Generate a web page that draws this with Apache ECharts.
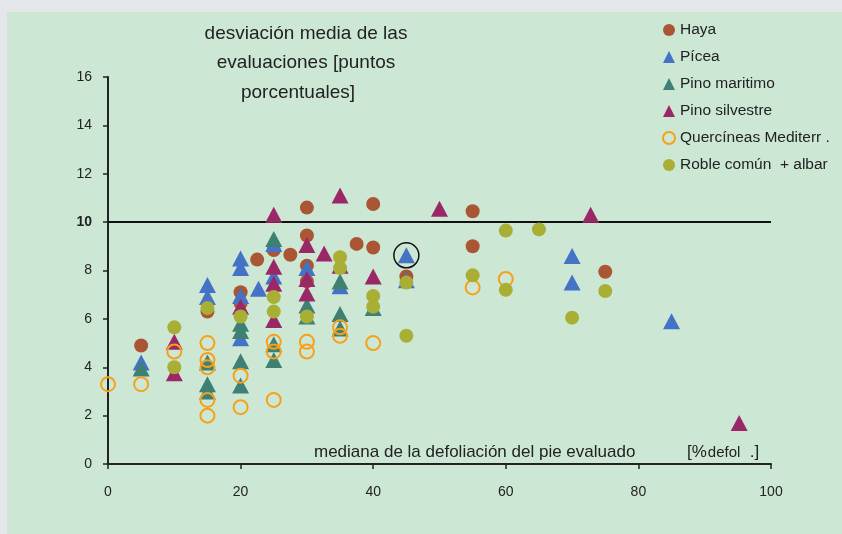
<!DOCTYPE html>
<html>
<head>
<meta charset="utf-8">
<script src="https://cdn.jsdelivr.net/npm/echarts@6/dist/echarts.min.js"></script>
<style>html,body{margin:0;padding:0;background:#E4E6E9;}#c{width:842px;height:534px;}</style>
</head>
<body>
<div id="c"></div>
<script>
// ---- data ----
const seriesNames = ['Haya', 'Pícea', 'Pino maritimo', 'Pino silvestre', 'Quercíneas Mediterr .', 'Roble común  + albar'];
const haya = [[5,4.9],[15,6.3],[20,7.1],[20,6.65],[22.5,8.45],[25,8.85],[27.5,8.65],[30,10.6],[30,9.45],[30,8.2],[30,7.55],[37.5,9.1],[40,10.75],[40,8.95],[45,7.75],[55,10.45],[55,9.0],[75,7.95]];
const picea = [[5,4.2],[15,7.4],[15,6.9],[20,8.5],[20,8.1],[20,6.95],[20,5.2],[22.7,7.25],[25,9.1],[25,7.75],[30,8.1],[35,7.35],[45,8.63],[45,7.6],[70,8.6],[70,7.5],[85,5.9]];
const pinoMaritimo = [[5,3.95],[15,4.2],[15,3.3],[15,3.0],[20,5.8],[20,5.5],[20,4.25],[20,3.25],[25,9.3],[25,4.95],[25,4.3],[30,6.55],[30,6.1],[35,7.55],[35,6.2],[35,5.6],[40,6.45]];
const pinoSilvestre = [[10,5.05],[10,3.75],[20,6.5],[25,10.3],[25,8.15],[25,7.45],[25,5.95],[30,9.05],[30,7.65],[30,7.05],[32.6,8.7],[35,11.1],[35,8.2],[40,7.75],[50,10.55],[72.8,10.3],[95.2,1.7]];
const quercineas = [[0,3.3],[5,3.3],[10,4.65],[15,5.0],[15,4.3],[15,4.0],[15,2.65],[15,2.0],[20,3.65],[20,2.35],[25,5.05],[25,4.65],[25,2.65],[30,5.05],[30,4.65],[35,5.65],[35,5.3],[40,5.0],[55,7.3],[60,7.65]];
const roble = [[10,5.65],[10,4.0],[15,6.45],[20,6.1],[25,6.9],[25,6.3],[30,6.1],[35,8.55],[35,8.1],[40,6.95],[40,6.5],[45,7.5],[45,5.3],[55,7.8],[60,9.65],[60,7.2],[65,9.7],[70,6.05],[75,7.15]];
const circledPoint = [45, 8.63];
const referenceLevel = 10;
const xTicks = [0, 20, 40, 60, 80, 100];
const yTicks = [0, 2, 4, 6, 8, 10, 12, 14, 16];
const titleLines = ['desviación media de las', 'evaluaciones [puntos', 'porcentuales]'];
const xName = 'mediana de la defoliación del pie evaluado';

// ---- chart ----
const FONT = '"Liberation Sans", Arial, sans-serif';
const TXT = '#222';
const chart = echarts.init(document.getElementById('c'), null, {renderer: 'canvas'});

const colors = ['#AA5533', '#4472C4', '#3E8073', '#9A2867', '#F6A11A', '#A9AE34'];
const datas = [haya, picea, pinoMaritimo, pinoSilvestre, quercineas, roble];
const symbols = ['circle', 'triangle', 'triangle', 'triangle', 'ring', 'circle'];
const sizes = [14, [17, 16], [17, 16], [17, 16], 14, 14];

const series = datas.map((d, i) => {
  const ring = symbols[i] === 'ring';
  return {
    name: seriesNames[i],
    type: 'scatter',
    data: d,
    symbol: 'circle'.replace('circle', ring ? 'circle' : symbols[i]),
    symbolSize: sizes[i],
    itemStyle: ring
      ? {color: 'rgba(0,0,0,0)', borderColor: colors[i], borderWidth: 2, opacity: 1}
      : {color: colors[i], opacity: 1},
    emphasis: {disabled: true},
    z: 2 + i
  };
});

series[0].markLine = {
  silent: true,
  symbol: ['none', 'none'],
  label: {show: false},
  lineStyle: {color: '#111', width: 2, type: 'solid'},
  data: [[{coord: [xTicks[0], referenceLevel]}, {coord: [xTicks[xTicks.length - 1], referenceLevel]}]],
  z: 1
};
series[1].markPoint = {
  silent: true,
  symbol: 'circle',
  symbolSize: 25,
  label: {show: false},
  itemStyle: {color: 'rgba(0,0,0,0)', borderColor: '#111', borderWidth: 1.5},
  data: [{coord: circledPoint}]
};

const option = {
  animation: false,
  backgroundColor: '#E4E6E9',
  textStyle: {fontFamily: FONT},
  graphic: [
    {type: 'rect', z: -10, silent: true, shape: {x: 7, y: 12, width: 835, height: 522}, style: {fill: '#CDE7D5'}},
    {type: 'text', z: 10, silent: true, style: {text: titleLines[0], x: 306, y: 34, textAlign: 'center', verticalAlign: 'middle', font: '19px ' + FONT, fill: TXT}},
    {type: 'text', z: 10, silent: true, style: {text: titleLines[1], x: 306, y: 63, textAlign: 'center', verticalAlign: 'middle', font: '19px ' + FONT, fill: TXT}},
    {type: 'text', z: 10, silent: true, style: {text: titleLines[2], x: 298, y: 93, textAlign: 'center', verticalAlign: 'middle', font: '19px ' + FONT, fill: TXT}},
    {type: 'text', z: 10, silent: true, style: {text: xName, x: 314, y: 452, textAlign: 'left', verticalAlign: 'middle', font: '17px ' + FONT, fill: TXT}},
    {type: 'text', z: 10, silent: true, style: {text: '{a|[%}{b|defol}{a|  .]}', x: 687, y: 452, textAlign: 'left', verticalAlign: 'middle', fill: TXT,
      rich: {a: {fontSize: 17, fontFamily: FONT, fill: TXT, color: TXT, verticalAlign: 'bottom'}, b: {fontSize: 15, fontFamily: FONT, color: TXT, fill: TXT, verticalAlign: 'bottom', padding: [0, 0, 0, 1]}}}}
  ],
  legend: {
    orient: 'vertical',
    left: 657,
    top: 17,
    itemWidth: 12,
    itemHeight: 12,
    itemGap: 11,
    selectedMode: false,
    data: seriesNames,
    textStyle: {fontSize: 15.5, color: TXT, fontFamily: FONT}
  },
  grid: {left: 108, right: 71, top: 77, bottom: 70, containLabel: false},
  xAxis: {
    type: 'value',
    min: xTicks[0],
    max: xTicks[xTicks.length - 1],
    interval: 20,
    axisLine: {show: true, onZero: false, lineStyle: {color: '#222', width: 2}},
    axisTick: {show: true, length: 5, inside: false, lineStyle: {color: '#222', width: 1.5}},
    axisLabel: {margin: 21, fontSize: 14, color: TXT, fontFamily: FONT},
    splitLine: {show: false}
  },
  yAxis: {
    type: 'value',
    min: yTicks[0],
    max: yTicks[yTicks.length - 1],
    interval: 2,
    axisLine: {show: true, onZero: false, lineStyle: {color: '#222', width: 2}},
    axisTick: {show: true, length: 5, inside: false, lineStyle: {color: '#222', width: 1.5}},
    axisLabel: {
      margin: 16, fontSize: 14, color: TXT, fontFamily: FONT,
      formatter: v => v === referenceLevel ? '{b|' + v + '}' : String(v),
      rich: {b: {fontWeight: 'bold', fontSize: 14, color: TXT, fontFamily: FONT}}
    },
    splitLine: {show: false}
  },
  series: series
};
chart.setOption(option);
</script>
</body>
</html>
